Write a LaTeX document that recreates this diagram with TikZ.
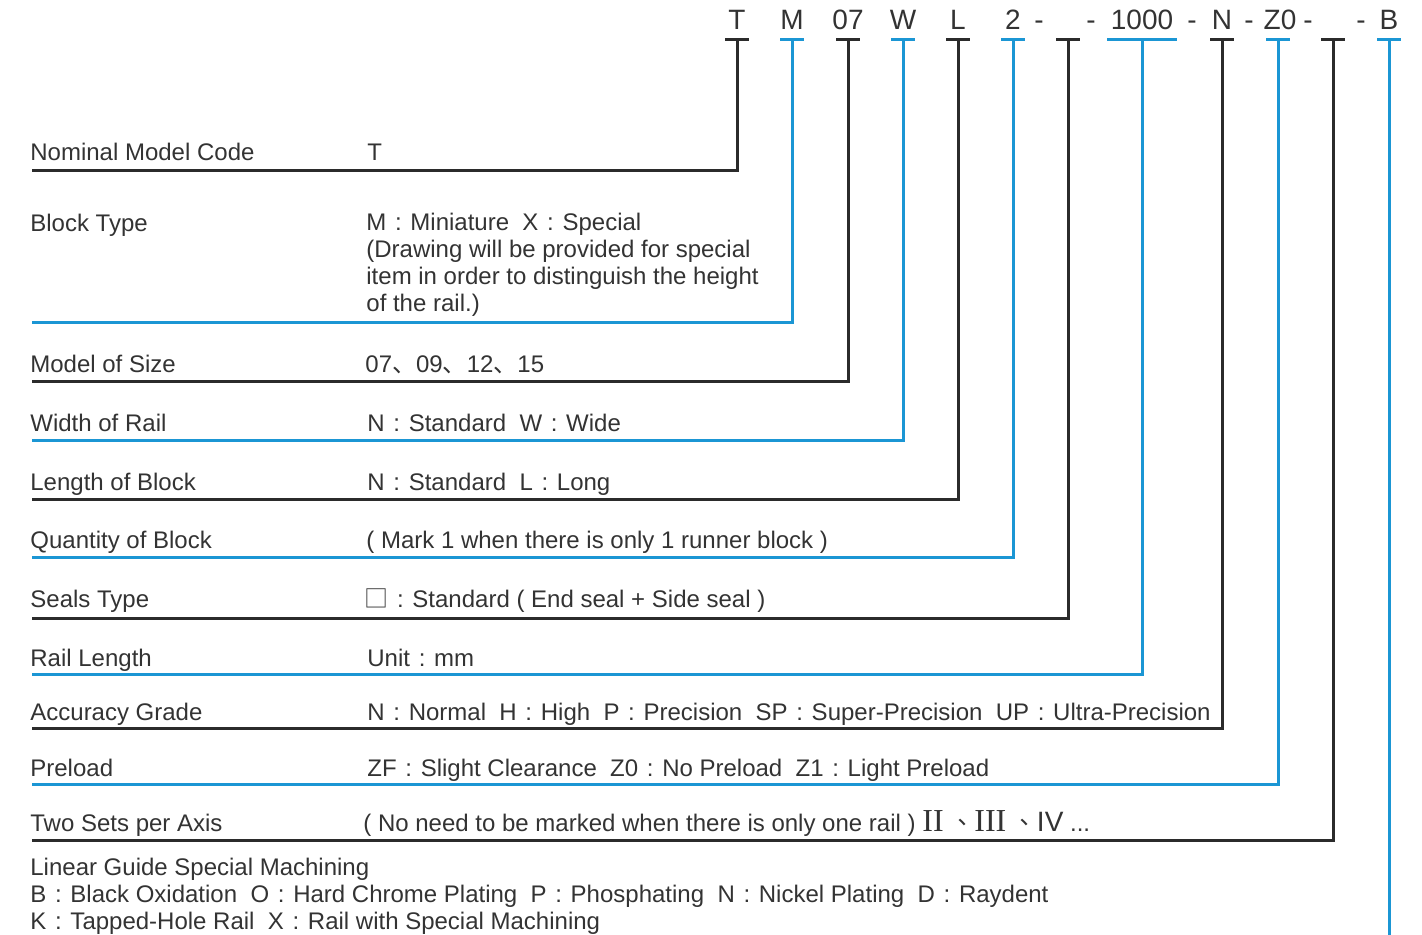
\documentclass[tikz,border=0pt]{standalone}
\usepackage{fontspec}
\setmainfont{Liberation Sans}
\newfontfamily\cjk{Noto Sans CJK TC}
\newfontfamily\cjkj{Noto Sans CJK JP}
\newfontfamily\rmser{Liberation Serif}
\newcommand{\fc}{\hspace{4.35pt}:\hspace{4.35pt}}
\definecolor{lblue}{HTML}{1B96D4}
\definecolor{lblack}{HTML}{2B2B2B}
\definecolor{txt}{HTML}{333333}
\begin{document}
\begin{tikzpicture}[x=0.5pt,y=-0.5pt,
  bl/.style={draw=lblue,line width=1.5pt},
  bk/.style={draw=lblack,line width=1.5pt},
  code/.style={anchor=base,text=txt,font=\fontsize{14}{16}\selectfont,inner sep=0pt},
  lab/.style={anchor=base west,text=txt,font=\fontsize{12}{13.5}\selectfont,inner sep=0pt},
  desc/.style={anchor=base west,text=txt,font=\fontsize{12}{13.5}\selectfont,inner sep=0pt,align=left}]
\useasboundingbox (0,0) rectangle (1422,935);
% code letters
\node[code] (cT) at (737,30) {T};
\node[code] (cM) at (792,30) {M};
\node[code] (c07) at (848,30) {07};
\node[code] (cW) at (903,30) {W};
\node[code] (cL) at (958,30) {L};
\node[code] (c2) at (1013,30) {2};
\node[code] (d1) at (1039,30) {-};
\node[code] (d2) at (1091,30) {-};
\node[code] (c1000) at (1142,30) {1000};
\node[code] (d3) at (1192,30) {-};
\node[code] (cN) at (1222,30) {N};
\node[code] (d4) at (1249,30) {-};
\node[code] (cZ) at (1280,30) {Z0};
\node[code] (d5) at (1308,30) {-};
\node[code] (d6) at (1361,30) {-};
\node[code] (cB) at (1389,30) {B};
% bar centres
\coordinate (bT) at (737,40);
\coordinate (bM) at (792,40);
\coordinate (b07) at (848,40);
\coordinate (bW) at (903,40);
\coordinate (bL) at (958,40);
\coordinate (b2) at (1013,40);
\coordinate (bS) at (1068,40);
\coordinate (b1000) at (1142,40);
\coordinate (bN) at (1222,40);
\coordinate (bZ) at (1278,40);
\coordinate (bX) at (1333,40);
\coordinate (bB) at (1389,40);
% row ends
\coordinate (eT) at (32,171);
\coordinate (eM) at (32,323);
\coordinate (e07) at (32,381);
\coordinate (eW) at (32,440);
\coordinate (eL) at (32,499);
\coordinate (e2) at (32,557);
\coordinate (eS) at (32,618);
\coordinate (e1000) at (32,674);
\coordinate (eN) at (32,728);
\coordinate (eZ) at (32,784);
\coordinate (eX) at (32,840);
\coordinate (eB) at (1389,935);
% bars
\draw[bk] (bT) ++(-12,0) -- ++(24,0);
\draw[bl] (bM) ++(-12,0) -- ++(24,0);
\draw[bk] (b07) ++(-12,0) -- ++(24,0);
\draw[bl] (bW) ++(-12,0) -- ++(24,0);
\draw[bk] (bL) ++(-12,0) -- ++(24,0);
\draw[bl] (b2) ++(-12,0) -- ++(24,0);
\draw[bk] (bS) ++(-12,0) -- ++(24,0);
\draw[bl] (b1000) ++(-35,0) -- ++(70,0);
\draw[bk] (bN) ++(-12,0) -- ++(24,0);
\draw[bl] (bZ) ++(-12,0) -- ++(24,0);
\draw[bk] (bX) ++(-12,0) -- ++(24,0);
\draw[bl] (bB) ++(-12,0) -- ++(24,0);
% connectors
\draw[bk] (bT) |- (eT);
\draw[bl] (bM) |- (eM);
\draw[bk] (b07) |- (e07);
\draw[bl] (bW) |- (eW);
\draw[bk] (bL) |- (eL);
\draw[bl] (b2) |- (e2);
\draw[bk] (bS) |- (eS);
\draw[bl] (b1000) |- (e1000);
\draw[bk] (bN) |- (eN);
\draw[bl] (bZ) |- (eZ);
\draw[bk] (bX) |- (eX);
\draw[bl] (bB) -- (eB);
% labels
\node[lab] (lT) at (30,161) {Nominal Model Code};
\node[lab] (lM) at (30,232) {Block Type};
\node[lab] (l07) at (30,372) {Model of Size};
\node[lab] (lW) at (30,431) {Width of Rail};
\node[lab] (lL) at (30,490) {Length of Block};
\node[lab] (l2) at (30,548) {Quantity of Block};
\node[lab] (lS) at (30,607) {Seals Type};
\node[lab] (l1000) at (30,666) {Rail Length};
\node[lab] (lN) at (30,720) {Accuracy Grade};
\node[lab] (lZ) at (30,776) {Preload};
\node[lab] (lX) at (30,831) {Two Sets per Axis};
% descriptions
\node[desc] (dT) at (367,161) {T};
\node[desc] (dM) at (366,312) {M\fc Miniature\ \ X\fc Special\\(Drawing will be provided for special\\item in order to distinguish the height\\of the rail.)};
\node[desc] (d07) at (365,372) {07{\cjkj 、}09{\cjkj 、}12{\cjkj 、}15};
\node[desc] (dW) at (367,431) {N\fc Standard\ \ W\fc Wide};
\node[desc] (dL) at (367,490) {N\fc Standard\ \ L\fc Long};
\node[desc] (d2) at (366,548) {( Mark 1 when there is only 1 runner block )};
\node[desc] (dS) at (364,607) {{\cjk □}\fc Standard ( End seal + Side seal )};
\node[desc] (d1000) at (367,666) {Unit\fc mm};
\node[desc] (dN) at (367,720) {N\fc Normal\ \ H\fc High\ \ P\fc Precision\ \ SP\fc Super-Precision\ \ UP\fc Ultra-Precision};
\node[desc] (dZ) at (367,776) {ZF\fc Slight Clearance\ \ Z0\fc No Preload\ \ Z1\fc Light Preload};
\node[desc] (dX) at (363,831) {( No need to be marked when there is only one rail ) {\fontsize{16}{18}\rmser II}\ {\cjk 、}{\fontsize{16}{18}\rmser III}\ {\cjk 、}{\fontsize{14}{16}\selectfont IV} ...};
% special machining
\node[desc] (dB) at (30,929) {Linear Guide Special Machining\\B\fc Black Oxidation\ \ O\fc Hard Chrome Plating\ \ P\fc Phosphating\ \ N\fc Nickel Plating\ \ D\fc Raydent\\K\fc Tapped-Hole Rail\ \ X\fc Rail with Special Machining};
\end{tikzpicture}
\end{document}
